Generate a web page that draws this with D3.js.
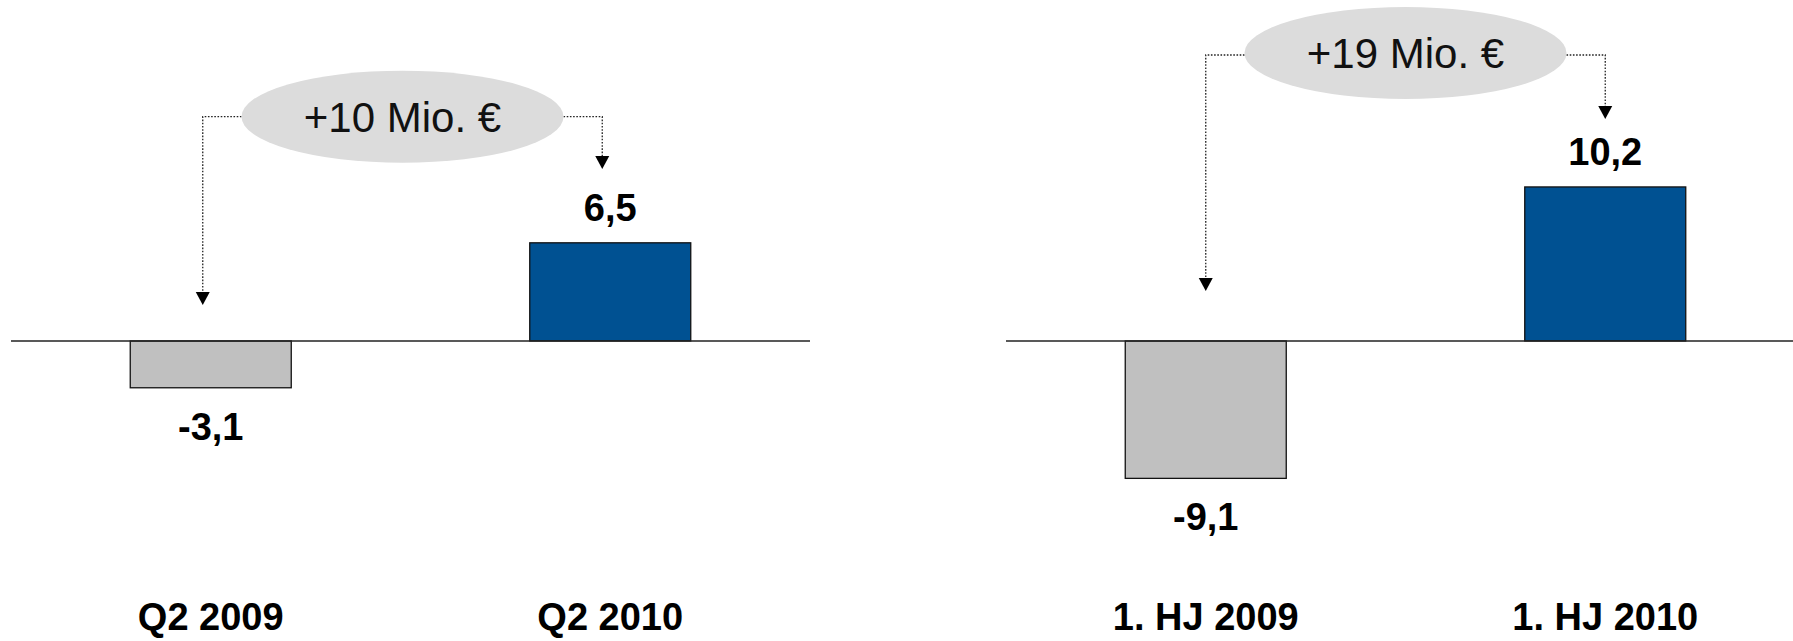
<!DOCTYPE html>
<html>
<head>
<meta charset="utf-8">
<script src="https://cdn.jsdelivr.net/npm/d3@7"></script>
<style>
  html, body { margin: 0; padding: 0; background: #fff; }
  svg { display: block; }
</style>
</head>
<body>
<svg id="chart" width="1793" height="641"></svg>
<script>
// Ergebnis (Mio. €): Quartal und Halbjahr im Vorjahresvergleich
const quarterCategories = ["Q2 2009", "Q2 2010"];
const quarterValues = [-3.1, 6.5];
const halfYearCategories = ["1. HJ 2009", "1. HJ 2010"];
const halfYearValues = [-9.1, 10.2];
const changeLabels = ["+10 Mio. €", "+19 Mio. €"];
const barColors = ["#c0c0c0", "#005192"];

const W = 1793, H = 641;
const FONT = "'Liberation Sans', Arial, Helvetica, sans-serif";
const de = d3.formatLocale({ decimal: ",", thousands: ".", grouping: [3], currency: ["", " €"], minus: "-" });
const fmt = de.format(".1f");

const svg = d3.select("#chart");

// shared value scale for both panels
const y = d3.scaleLinear().domain([-19.87, 22.58]).range([H, 0]);

// panel layout (annotation geometry per panel)
const panels = [
  { x0: 11, categories: quarterCategories, values: quarterValues, change: changeLabels[0],
    shift: -8, cy: 116.7, lineY: 116.7, srcTip: 305, dstTip: 169 },
  { x0: 1006, categories: halfYearCategories, values: halfYearValues, change: changeLabels[1],
    shift: 0, cy: 53, lineY: 55, srcTip: 291, dstTip: 119 }
];
const panelWidth = 799;
const rx = 161, ry = 46;

panels.forEach(p => {
  const g = svg.append("g");
  const x = d3.scaleBand()
    .domain(p.categories)
    .range([p.x0, p.x0 + panelWidth])
    .paddingInner(0.597)
    .paddingOuter(0.2985);
  const data = p.categories.map((c, i) => ({ c, v: p.values[i], i }));
  const cx = c => x(c) + x.bandwidth() / 2;

  // bars
  g.selectAll("rect.bar").data(data).join("rect")
    .attr("class", "bar")
    .attr("x", d => x(d.c))
    .attr("width", x.bandwidth())
    .attr("y", d => y(Math.max(0, d.v)))
    .attr("height", d => Math.abs(y(d.v) - y(0)))
    .attr("fill", d => barColors[d.i])
    .attr("stroke", "#111")
    .attr("stroke-width", 1.3);

  // zero line
  g.append("line")
    .attr("x1", p.x0).attr("x2", p.x0 + panelWidth)
    .attr("y1", y(0)).attr("y2", y(0))
    .attr("stroke", "#222").attr("stroke-width", 1.5);

  // value labels
  g.selectAll("text.val").data(data).join("text")
    .attr("class", "val")
    .attr("x", d => cx(d.c))
    .attr("y", d => d.v >= 0 ? y(d.v) - 22 : y(d.v) + 52)
    .attr("text-anchor", "middle")
    .attr("font-family", FONT)
    .attr("font-weight", "bold")
    .attr("font-size", 38)
    .attr("fill", "#000")
    .text(d => fmt(d.v));

  // category labels
  g.selectAll("text.cat").data(data).join("text")
    .attr("class", "cat")
    .attr("x", d => cx(d.c))
    .attr("y", 630)
    .attr("text-anchor", "middle")
    .attr("font-family", FONT)
    .attr("font-weight", "bold")
    .attr("font-size", 38)
    .attr("fill", "#000")
    .text(d => d.c);

  // change annotation: ellipse with connectors
  const ex = (cx(p.categories[0]) + cx(p.categories[1])) / 2 + p.shift;
  const ax0 = cx(p.categories[0]) + p.shift;
  const ax1 = cx(p.categories[1]) + p.shift;
  const head = 13, half = 7;

  const connectors = [
    [[ex - rx, p.lineY], [ax0, p.lineY], [ax0, p.srcTip - head]],
    [[ex + rx, p.lineY], [ax1, p.lineY], [ax1, p.dstTip - head]]
  ];
  g.selectAll("path.conn").data(connectors).join("path")
    .attr("class", "conn")
    .attr("d", d3.line())
    .attr("fill", "none")
    .attr("stroke", "#222")
    .attr("stroke-width", 1.3)
    .attr("stroke-dasharray", "1.6,1.6");

  const heads = [[ax0, p.srcTip], [ax1, p.dstTip]];
  g.selectAll("path.head").data(heads).join("path")
    .attr("class", "head")
    .attr("d", d => `M${d[0] - half},${d[1] - head}L${d[0] + half},${d[1] - head}L${d[0]},${d[1]}Z`)
    .attr("fill", "#000");

  g.append("ellipse")
    .attr("cx", ex).attr("cy", p.cy)
    .attr("rx", rx).attr("ry", ry)
    .attr("fill", "#dcdcdc");

  g.append("text")
    .attr("x", ex).attr("y", p.cy + 15)
    .attr("text-anchor", "middle")
    .attr("font-family", FONT)
    .attr("font-size", 42)
    .attr("fill", "#111")
    .text(p.change);
});
</script>
</body>
</html>
